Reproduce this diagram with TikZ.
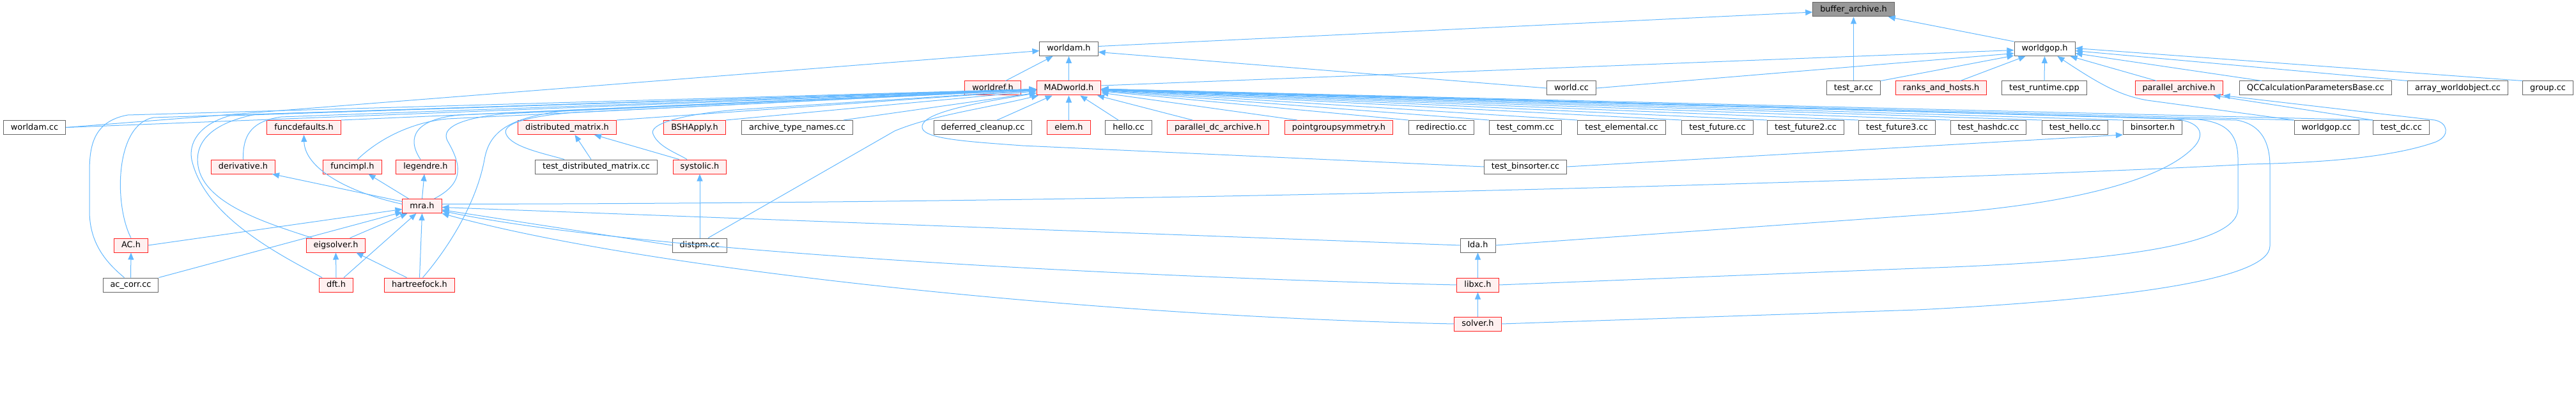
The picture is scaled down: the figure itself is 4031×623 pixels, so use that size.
\documentclass[tikz,border=0pt]{standalone}
\usepackage{fontspec}
\setmainfont{DejaVu Sans}
\usetikzlibrary{arrows.meta,calc}
\definecolor{eblue}{HTML}{63B8FF}
\definecolor{gborder}{HTML}{666666}
\definecolor{rfill}{HTML}{FFF0F0}
\definecolor{bfill}{HTML}{999999}
\definecolor{rborder}{HTML}{FF2020}
\begin{document}
\begin{tikzpicture}[x=1pt,y=-1pt,
 box/.style={draw=gborder, fill=white, line width=1pt, font=\fontsize{12.9}{15}\selectfont, inner xsep=11.5pt, inner ysep=0pt, minimum height=22pt, text height=9.6pt, text depth=2.6pt},
 rbox/.style={box, draw=rborder, fill=rfill},
 gbox/.style={box, fill=bfill},
 inc/.style={draw=eblue, line width=1pt, arrows={Triangle[length=11pt,width=9pt]-}}]
\useasboundingbox (0,0) rectangle (4031,623);
% row 0,1
\node[gbox] (buf) at (2900.5,15) {buffer\_archive.h};
\node[box] (wam) at (1672.5,76.5) {worldam.h};
\node[box] (wgop) at (3199.5,76.5) {worldgop.h};
% row 2
\node[rbox] (wref) at (1553.5,138) {worldref.h};
\node[rbox] (mad) at (1672.5,138) {MADworld.h};
\node[box] (worldcc) at (2459,138) {world.cc};
\node[box] (tar) at (2900.5,138) {test\_ar.cc};
\node[rbox] (ranks) at (3037.5,138) {ranks\_and\_hosts.h};
\node[box] (trun) at (3199,138) {test\_runtime.cpp};
\node[rbox] (par) at (3409.5,138) {parallel\_archive.h};
\node[box] (qcc) at (3623.5,138) {QCCalculationParametersBase.cc};
\node[box] (awo) at (3846,138) {array\_worldobject.cc};
\node[box] (group) at (3987,138) {group.cc};
% row 3
\node[box] (wamcc) at (54,199.5) {worldam.cc};
\node[rbox] (fdef) at (475.5,199.5) {funcdefaults.h};
\node[rbox] (dmat) at (887.5,199.5) {distributed\_matrix.h};
\node[rbox] (bsh) at (1087,199.5) {BSHApply.h};
\node[box] (atn) at (1247.5,199.5) {archive\_type\_names.cc};
\node[box] (defc) at (1538,199.5) {deferred\_cleanup.cc};
\node[rbox] (elem) at (1672.5,199.5) {elem.h};
\node[box] (hello) at (1766,199.5) {hello.cc};
\node[rbox] (pdca) at (1906,199.5) {parallel\_dc\_archive.h};
\node[rbox] (pgs) at (2095,199.5) {pointgroupsymmetry.h};
\node[box] (redir) at (2255.5,199.5) {redirectio.cc};
\node[box] (tcomm) at (2387,199.5) {test\_comm.cc};
\node[box] (telem) at (2537.5,199.5) {test\_elemental.cc};
\node[box] (tfut) at (2687.5,199.5) {test\_future.cc};
\node[box] (tfut2) at (2825.5,199.5) {test\_future2.cc};
\node[box] (tfut3) at (2968.5,199.5) {test\_future3.cc};
\node[box] (thash) at (3111.5,199.5) {test\_hashdc.cc};
\node[box] (thello) at (3247,199.5) {test\_hello.cc};
\node[box] (bins) at (3368.5,199.5) {binsorter.h};
\node[box] (wgopcc) at (3640.5,199.5) {worldgop.cc};
\node[box] (tdc) at (3757.5,199.5) {test\_dc.cc};
% row 4
\node[rbox] (deriv) at (380.5,261) {derivative.h};
\node[rbox] (fimpl) at (551.5,261) {funcimpl.h};
\node[rbox] (leg) at (666,261) {legendre.h};
\node[box] (tdm) at (933,261) {test\_distributed\_matrix.cc};
\node[rbox] (sys) at (1095,261) {systolic.h};
\node[box] (tbs) at (2387,261) {test\_binsorter.cc};
% row 5
\node[rbox] (mra) at (660.5,322.5) {mra.h};
% row 6
\node[rbox] (ac) at (205,384) {AC.h};
\node[rbox] (eig) at (525.5,384) {eigsolver.h};
\node[box] (distpm) at (1095,384) {distpm.cc};
\node[box] (lda) at (2312.5,384) {lda.h};
% row 7
\node[box] (acc) at (204.5,446) {ac\_corr.cc};
\node[rbox] (dft) at (526,446) {dft.h};
\node[rbox] (hf) at (656.5,446) {hartreefock.h};
\node[rbox] (libxc) at (2312.5,446) {libxc.h};
% row 8
\node[rbox] (solver) at (2312.5,507) {solver.h};

% ---- edges to buffer_archive.h
\draw[inc] ($(buf.west)+(0,4)$) -- ($(wam.east)+(0,-4)$);
\draw[inc] (buf.south) -- (tar.north);
\draw[inc] ($(buf.south east)+(-10,0)$) -- (wgop.north west);
% ---- edges to worldam.h
\draw[inc] ($(wam.south)+(-25,0)$) -- ($(wref.north)+(20,0)$);
\draw[inc] (wam.south) -- (mad.north);
\draw[inc] ($(wam.west)+(0,3)$) -- (wamcc.east);
\draw[inc] ($(wam.east)+(0,5)$) -- (worldcc.west);
% ---- edges to worldgop.h
\draw[inc] ($(wgop.west)+(0,2)$) -- ($(mad.east)+(0,-4)$);
\draw[inc] ($(wgop.west)+(0,7)$) -- (worldcc.east);
\draw[inc] ($(wgop.south west)+(0,-1)$) -- (tar.north east);
\draw[inc] ($(wgop.south west)+(18,0)$) -- ($(ranks.north)+(30,0)$);
\draw[inc] (wgop.south) -- (trun.north);
\draw[inc] ($(wgop.south east)+(-8,0)$) -- ($(par.north)+(-35,0)$);
\draw[inc] ($(wgop.east)+(0,7)$) -- ($(qcc.north west)+(35,0)$);
\draw[inc] ($(wgop.east)+(0,3)$) -- (awo.north west);
\draw[inc] ($(wgop.east)+(0,-1)$) -- (group.north west);
\draw[inc] ($(wgop.south)+(20,0)$) .. controls (3290,135) and (3320,150) .. (3360,157) -- (wgopcc.north west);
% ---- MADworld.h fan, left side
\draw[inc] (mad) -- (wamcc.east);
\draw[inc] (mad) -- (240,184) .. controls (180,195) and (178,320) .. (ac.north);
\draw[inc] (mad) -- (200,180) .. controls (145,190) and (140,230) .. (140,270) -- (140,330) .. controls (140,380) and (165,410) .. ($(acc.north)+(-10,0)$);
\draw[inc] (mad) -- (fdef.north east);
\draw[inc] (mad) -- (440,183) .. controls (390,190) and (380,215) .. (deriv.north);
\draw[inc] (mad) -- (400,179) .. controls (320,195) and (305,230) .. (310,260) .. controls (320,320) and (420,350) .. ($(eig.north west)+(10,0)$);
\draw[inc] (mad) -- (360,181) .. controls (310,195) and (295,225) .. (300,250) .. controls (320,340) and (440,400) .. ($(dft.north west)+(5,0)$);
\draw[inc] (mad) -- (700,186) .. controls (640,192) and (590,220) .. ($(fimpl.north)+(8,0)$);
\draw[inc] (mad) -- (720,180) .. controls (650,186) and (635,215) .. ($(leg.north)+(-8,0)$);
\draw[inc] (mad) -- (790,178) .. controls (720,185) and (690,200) .. (700,220) .. controls (720,255) and (730,285) .. ($(mra.north east)+(-12,0)$);
\draw[inc] (mad) -- (880,174) .. controls (790,185) and (765,210) .. (758,250) .. controls (745,320) and (700,390) .. ($(hf.north)+(5,0)$);
\draw[inc] (mad) -- (dmat.north east);
\draw[inc] (mad) -- (900,176) .. controls (820,182) and (785,195) .. (792,210) .. controls (800,230) and (850,240) .. ($(tdm.north)+(-50,0)$);
\draw[inc] (mad) -- (1150,172) .. controls (1060,180) and (1015,195) .. (1022,210) .. controls (1030,230) and (1060,240) .. ($(sys.north)+(-20,0)$);
\draw[inc] (mad) .. controls (1540,170) and (1460,180) .. (1400,205) -- ($(distpm.north)+(13,0)$);
\draw[inc] (mad) -- (bsh.north east);
\draw[inc] (mad) -- ($(atn.north east)+(-15,0)$);
\draw[inc] (mad) -- ($(defc.north east)+(-55,0)$);
\draw[inc] (mad) .. controls (1500,165) and (1440,180) .. (1443,200) .. controls (1446,218) and (1520,222) .. (1600,228) -- (tbs.west);
% ---- MADworld.h fan, right side
\draw[inc] (mad.south) -- (elem.north);
\draw[inc] (mad) -- ($(hello.north)+(-16,0)$);
\draw[inc] (mad) -- ($(pdca.north west)+(40,0)$);
\draw[inc] (mad) -- ($(pgs.north west)+(20,0)$);
\draw[inc] (mad) -- (redir.north west);
\draw[inc] (mad) -- (tcomm.north west);
\draw[inc] (mad) -- (telem.north west);
\draw[inc] (mad) -- (tfut.north west);
\draw[inc] (mad) -- (tfut2.north west);
\draw[inc] (mad) -- (tfut3.north west);
\draw[inc] (mad) -- (thash.north west);
\draw[inc] (mad) -- (thello.north west);
\draw[inc] (mad) -- (bins.north west);
\draw[inc] (mad) -- (wgopcc.north west);
\draw[inc] (mad) -- (tdc.north west);
\draw[inc] (mad) -- (3400,186) .. controls (3445,190) and (3450,210) .. (3435,228) .. controls (3380,290) and (3200,325) .. (3000,337) -- (lda.east);
\draw[inc] (mad) -- (3440,187) .. controls (3490,192) and (3502,215) .. (3502,250) -- (3502,327) .. controls (3502,385) and (3300,410) .. (3000,420) -- (libxc.east);
\draw[inc] (mad) -- (3500,188) .. controls (3540,195) and (3552,225) .. (3552,260) -- (3552,385) .. controls (3552,440) and (3300,470) .. (3000,485) -- (solver.east);
% ---- mra.h includes
\draw[inc] (fdef.south) .. controls (477,262) and (540,300) .. ($(mra.west)+(0,-3)$);
\draw[inc] ($(deriv.south east)+(-5,0)$) -- ($(mra.west)+(0,-7)$);
\draw[inc] ($(fimpl.south)+(25,0)$) -- ($(mra.north west)+(10,0)$);
\draw[inc] ($(leg.south)+(-2,0)$) -- (mra.north);
\draw[inc] (par.south east) -- (3810,188) .. controls (3830,192) and (3835,212) .. (3812,222) .. controls (3740,248) and (3620,255) .. (3520,257) .. controls (3200,275) and (2000,318) .. ($(mra.east)+(0,-3)$);
\draw[inc] ($(par.south east)+(-15,0)$) -- (tdc.north west);
% ---- into mra.h
\draw[inc] ($(mra.west)+(0,5)$) -- (ac.east);
\draw[inc] ($(mra.south west)+(0,-2)$) -- (acc.north east);
\draw[inc] ($(mra.south west)+(8,0)$) -- ($(eig.north)+(22,0)$);
\draw[inc] ($(mra.south west)+(22,0)$) -- ($(dft.north)+(12,0)$);
\draw[inc] (mra.south) -- (hf.north);
\draw[inc] ($(mra.east)+(0,2)$) -- (lda.west);
\draw[inc] ($(mra.east)+(0,6)$) -- (distpm.west);
\draw[inc] ($(mra.south east)+(0,-4)$) .. controls (1000,395) and (1800,435) .. (libxc.west);
\draw[inc] (mra.south east) .. controls (1000,420) and (1700,495) .. (solver.west);
% ---- others
\draw[inc] (ac.south) -- (acc.north);
\draw[inc] (eig.south) -- (dft.north);
\draw[inc] ($(eig.south east)+(-15,0)$) -- ($(hf.north)+(-20,0)$);
\draw[inc] (lda.south) -- (libxc.north);
\draw[inc] (libxc.south) -- (solver.north);
\draw[inc] ($(dmat.south)+(12,0)$) -- ($(tdm.north)+(-8,0)$);
\draw[inc] ($(dmat.south east)+(-35,0)$) -- ($(sys.north west)+(10,0)$);
\draw[inc] (sys.south) -- (distpm.north);
\draw[inc] (bins.south west) -- (tbs.east);
\end{tikzpicture}
\end{document}
